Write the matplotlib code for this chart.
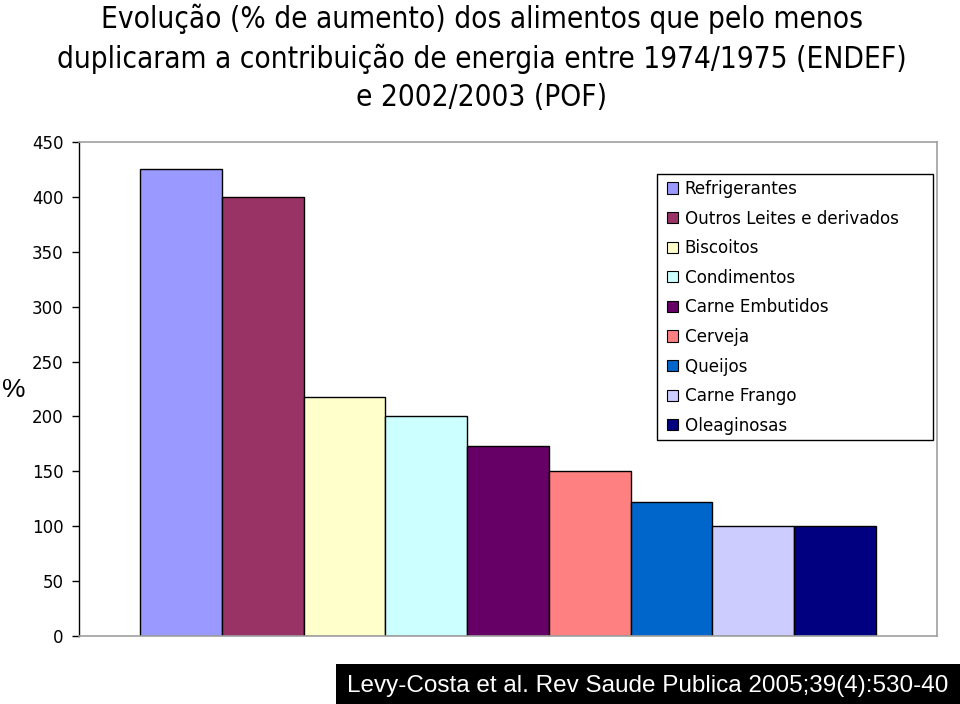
import matplotlib
matplotlib.use('Agg')
import matplotlib.pyplot as plt
from matplotlib.patches import Rectangle

# ─── Data ───
foods = ['Refrigerantes', 'Outros Leites e derivados', 'Biscoitos', 'Condimentos',
         'Carne Embutidos', 'Cerveja', 'Queijos', 'Carne Frango', 'Oleaginosas']
increase = [425, 400, 218, 200, 173, 150, 122, 100, 100]
colors = ['#9999FF', '#993366', '#FFFFCC', '#CCFFFF', '#660066',
          '#FF8080', '#0066CC', '#CCCCFF', '#000080']
yticks = list(range(0, 451, 50))

title = ('Evolução (% de aumento) dos alimentos que pelo menos\n'
         'duplicaram a contribuição de energia entre 1974/1975 (ENDEF)\n'
         'e 2002/2003 (POF)')
source = 'Levy-Costa et al. Rev Saude Publica 2005;39(4):530-40'

W, H = 960, 704
fig = plt.figure(figsize=(W / 100, H / 100), dpi=100)
ax = fig.add_axes([79 / W, 1 - 636 / H, (937 - 79) / W, (636 - 142) / H])

for i, (name, val, c) in enumerate(zip(foods, increase, colors)):
    ax.bar(i, val, width=1.0, align='edge', color=c, edgecolor='black',
           linewidth=1.0, label=name)

ax.set_xlim(-0.75, 9.75)
ax.set_ylim(0, 450)
ax.set_xticks([])
ax.set_yticks(yticks)
ax.tick_params(axis='y', labelsize=12, length=5, width=1, direction='out', pad=6)
for s in ['top', 'right', 'bottom']:
    ax.spines[s].set_color('#A0A0A0')
    ax.spines[s].set_linewidth(1.2)
ax.spines['left'].set_color('black')
ax.spines['left'].set_linewidth(1.0)

ax.set_ylabel('%', rotation=0, fontsize=19, family='Liberation Sans', ha='center', va='center')
ax.yaxis.set_label_coords((14 - 79) / (937 - 79), (636 - 390) / (636 - 142))

# legend: entries without frame, box drawn separately (Excel-style fixed box)
leg = ax.legend(loc='upper left', bbox_to_anchor=(667 / W, 1 - 180 / H),
                bbox_transform=fig.transFigure, fontsize=12.1, frameon=False,
                handlelength=0.65, handleheight=0.65, handletextpad=0.4,
                labelspacing=0.69, borderpad=0, borderaxespad=0)
for h in leg.legend_handles:
    h.set_linewidth(0.8)
fig.patches.append(Rectangle((657 / W, 1 - 440 / H), (933 - 657) / W, (440 - 174) / H,
                             transform=fig.transFigure, fill=False, edgecolor='black',
                             linewidth=1.0))

fig.text(0.502, 0.995, title, ha='center', va='top', fontsize=21.3,
         family='DejaVu Sans', fontstretch='condensed', linespacing=1.4)

fig.patches.append(Rectangle((336 / W, 0), 1 - 336 / W, 40 / H, transform=fig.transFigure,
                             facecolor='black', edgecolor='none'))
fig.text(347 / W, 1 - 686 / H, source, ha='left', va='center', color='white',
         fontsize=17.5, family='Liberation Sans')

fig.savefig('out.png', dpi=100)
